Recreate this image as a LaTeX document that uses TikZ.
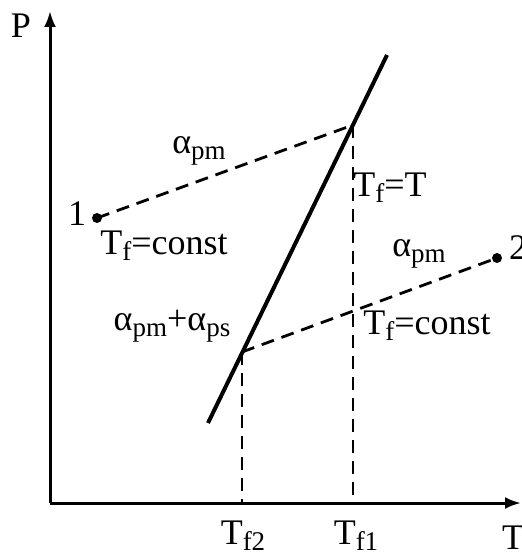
\documentclass[tikz,border=0pt]{standalone}
\usepackage{fontspec}
\setmainfont{Liberation Serif}
\usetikzlibrary{arrows.meta}
\newcommand{\lsub}[1]{\raisebox{-0.17em}{\fontsize{27}{27}\selectfont #1}}
\begin{document}
\begin{tikzpicture}[x=1pt,y=-1pt,
  lbl/.style={inner sep=0pt,font=\fontsize{36}{42}\selectfont},
  axisline/.style={line width=3pt,-{Latex[length=16pt,width=12pt]}},
  solidline/.style={line width=4pt},
  dashline/.style={line width=2.8pt,dash pattern=on 13pt off 8pt},
  dotmark/.style={circle,fill=black,inner sep=0pt,minimum size=10pt}]
\useasboundingbox (0,0) rectangle (521,553);
% axes
\coordinate (O) at (50,503);
\coordinate (Ptop) at (50,11);
\coordinate (Tright) at (521,503);
\draw[axisline] (O) -- (Ptop);
\draw[axisline] (O) -- (Tright);
% solid line
\coordinate (Sa) at (208,423);
\coordinate (Sb) at (387,55);
\draw[solidline] (Sa) -- (Sb);
% intersections
\coordinate (X1) at (353,125);
\coordinate (X2) at (242,352);
\coordinate (B1) at (353,503);
\coordinate (B2) at (242,503);
% points
\node[dotmark] (p1) at (97,218) {};
\node[dotmark] (p2) at (497,258) {};
% dashed
\draw[dashline] (p1.center) -- (X1);
\draw[dashline] (X2) -- (p2.center);
\draw[dashline] (X1) -- (B1);
\draw[dashline] (X2) -- (B2);
% labels
\node[lbl] (lP) at (21,26) {P};
\node[lbl] (lT) at (513,538) {T};
\node[lbl] (l1) at (77,214) {1};
\node[lbl] (l2) at (518,248) {2};
\node[lbl] (a1) at (199,151) {α\lsub{pm}};
\node[lbl] (a2) at (419,254) {α\lsub{pm}};
\node[lbl] (a3) at (172,326) {α\lsub{pm}+α\lsub{ps}};
\node[lbl] (c1) at (164,246) {T\lsub{f}=const};
\node[lbl] (c2) at (427,326) {T\lsub{f}=const};
\node[lbl] (tt) at (390,188) {T\lsub{f}=T};
\node[lbl] (f1) at (356,536) {T\lsub{f1}};
\node[lbl] (f2) at (243,536) {T\lsub{f2}};
\end{tikzpicture}
\end{document}
